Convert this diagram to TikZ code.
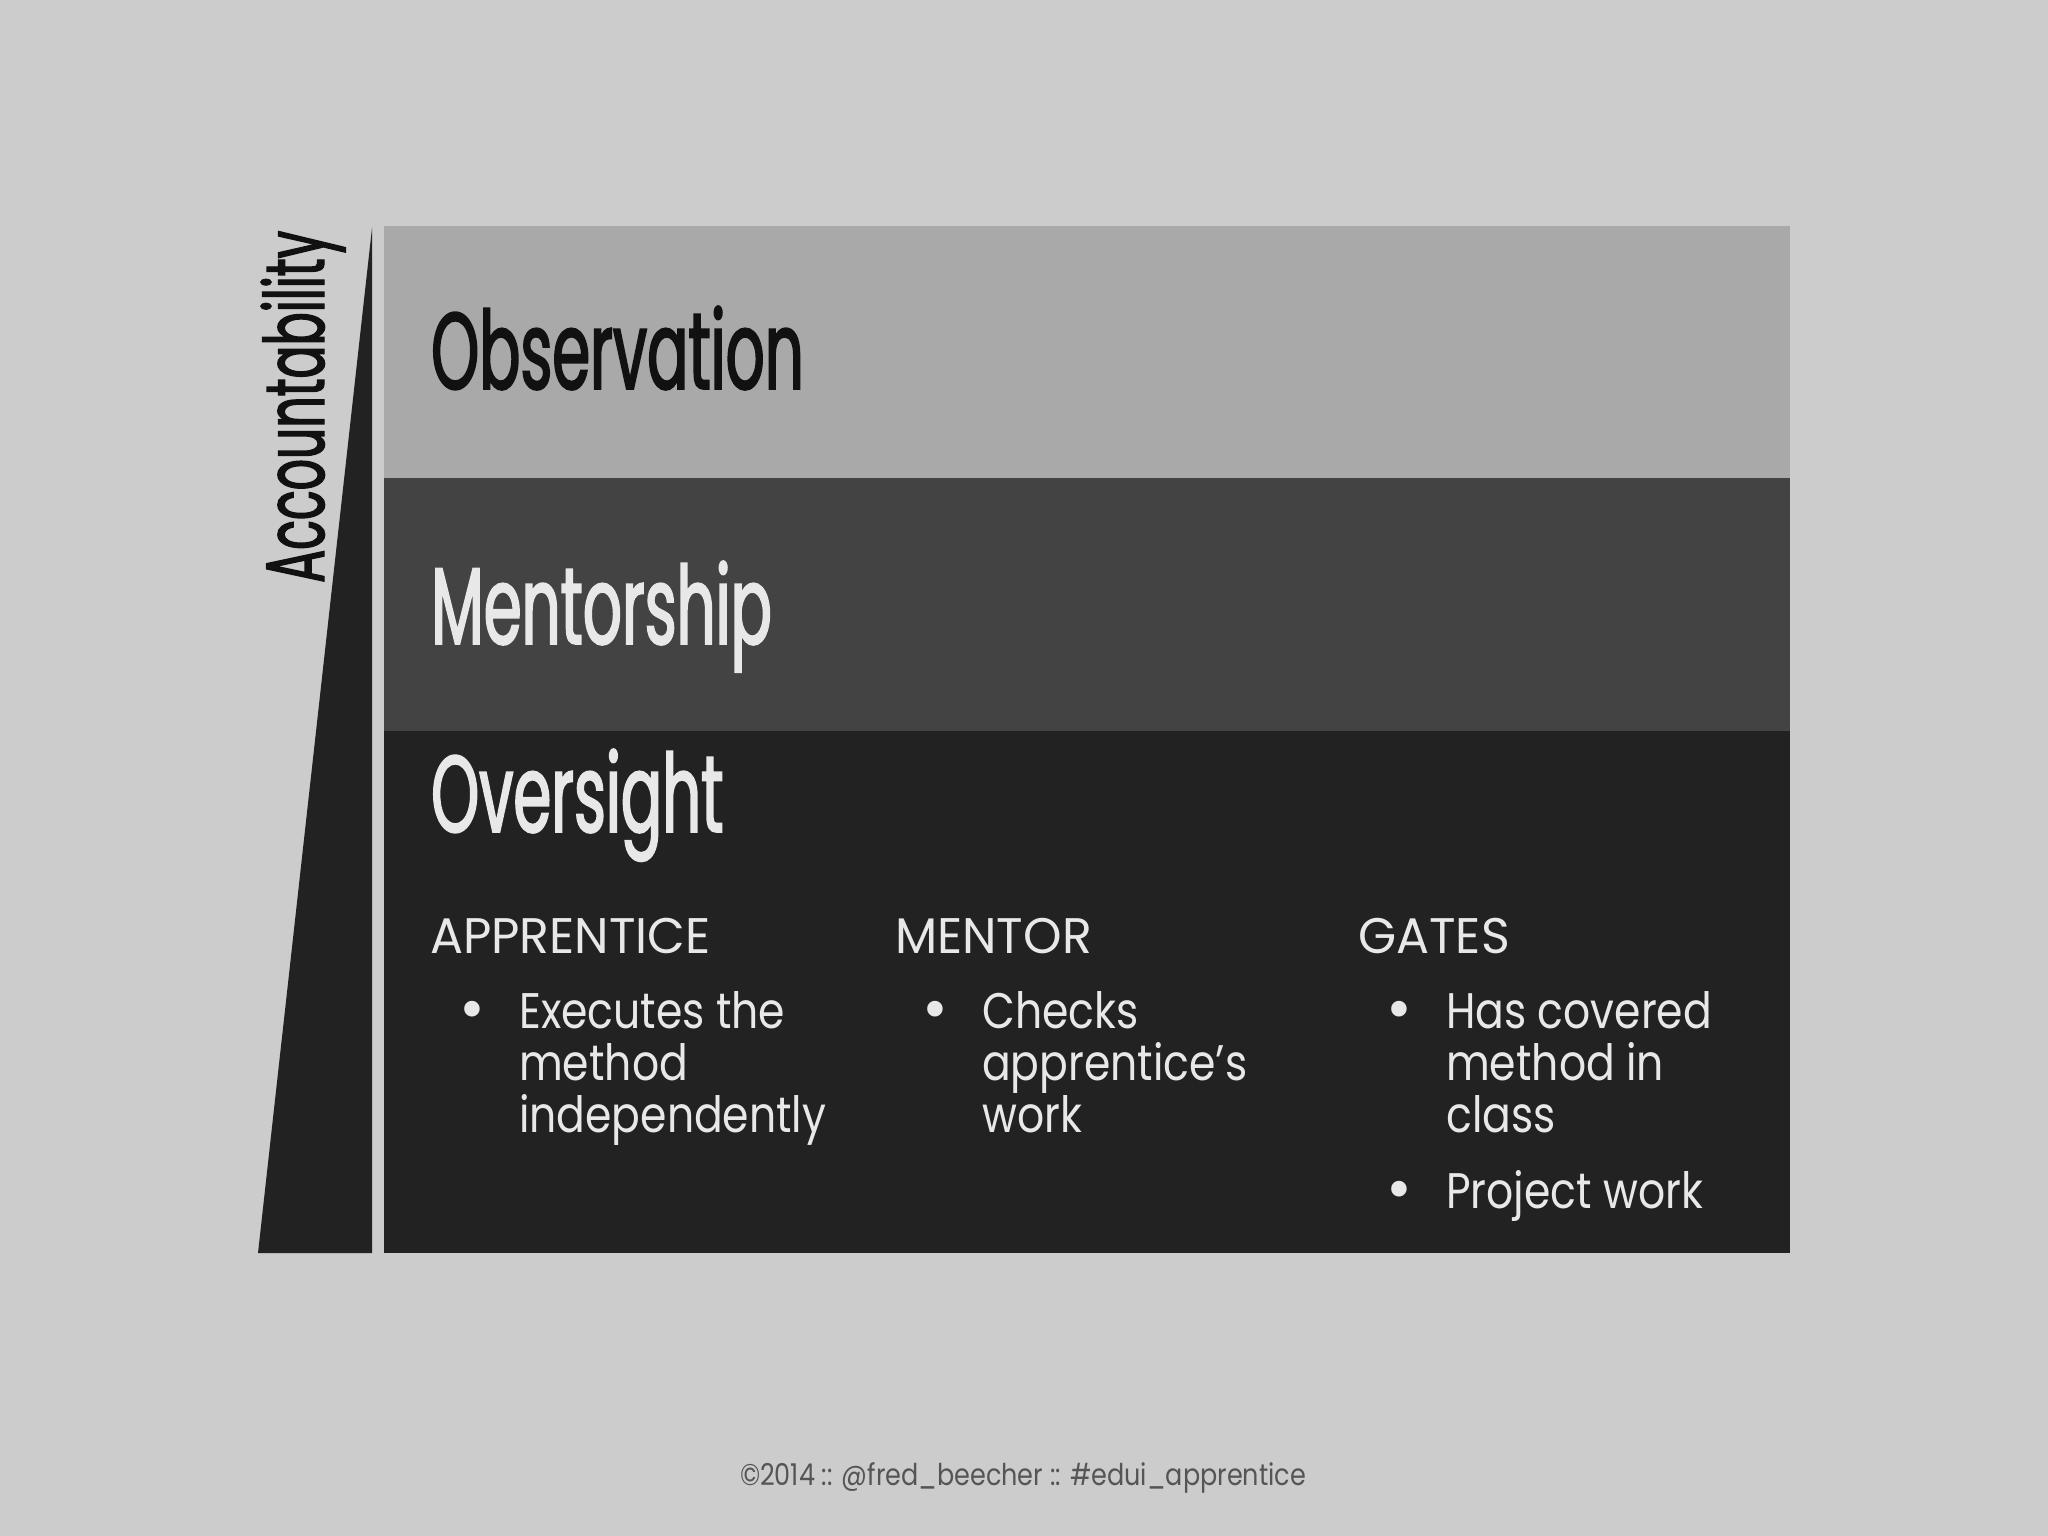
\documentclass[tikz,border=0pt]{standalone}
\usepackage{fontspec}
\setmainfont{Poppins}
\newfontfamily\condfont[FakeStretch=0.56,FakeBold=1.6]{Poppins}
\newfontfamily\acctfont[FakeStretch=0.59,FakeBold=1.6]{Poppins}
\newfontfamily\bodyfont[FakeStretch=0.85]{Poppins}
\newfontfamily\headfont[FakeStretch=0.98]{Poppins}
\definecolor{bgc}{HTML}{CCCCCC}
\definecolor{obsc}{HTML}{A9A9A9}
\definecolor{menc}{HTML}{434343}
\definecolor{ovrc}{HTML}{222222}
\definecolor{lighttext}{HTML}{E8E8E8}
\definecolor{darktext}{HTML}{111111}
\definecolor{footc}{HTML}{555555}
\tikzset{
  band/.style={rectangle, draw=none, inner sep=0pt, anchor=north west, minimum width=1406pt},
  title/.style={anchor=base west, inner sep=0pt, font=\condfont\fontsize{109}{109}\selectfont},
  head/.style={anchor=base west, inner sep=0pt, text=lighttext, font=\headfont\fontsize{50}{50}\selectfont},
  item/.style={anchor=base west, inner sep=0pt, text=lighttext, font=\bodyfont\fontsize{50}{50}\selectfont},
  bul/.style={anchor=base, inner sep=0pt, text=lighttext, font=\headfont\fontsize{64}{64}\selectfont},
}
\begin{document}
\begin{tikzpicture}[x=1pt,y=-1pt]
\fill[bgc] (0,0) rectangle (2048,1536);
\useasboundingbox (0,0) rectangle (2048,1536);
% accountability wedge
\fill[ovrc] (372,228) -- (372,1253) -- (258,1253) -- cycle;
\node[anchor=base west, inner sep=0pt, rotate=90, text=darktext, font=\acctfont\fontsize{83}{83}\selectfont] (acc) at (324,583) {Accountability};
% bands
\node[band, fill=obsc, minimum height=252pt] (obs) at (384,226) {};
\node[band, fill=menc, minimum height=253pt] (men) at (384,478) {};
\node[band, fill=ovrc, minimum height=522pt] (ovr) at (384,731) {};
% titles
\node[title, text=darktext] (tobs) at (431,389) {Observation};
\node[title, text=lighttext] (tmen) at (431,644) {Mentorship};
\node[title, text=lighttext] (tovr) at (431,832) {Oversight};
% columns
\node[head] (h1) at (430,953) {APPRENTICE};
\node[head] (h2) at (895,953) {MENTOR};
\node[head] (h3) at (1358,953) {GATES};
\node[bul] (b1) at (472,1030) {•};
\node[item] (a1) at (519,1028) {Executes the};
\node[item] (a2) at (519,1080) {method};
\node[item] (a3) at (519,1132) {independently};
\node[bul] (b2) at (935,1030) {•};
\node[item] (m1) at (982,1028) {Checks};
\node[item] (m2) at (982,1080) {apprentice’s};
\node[item] (m3) at (982,1132) {work};
\node[bul] (b3) at (1399,1030) {•};
\node[item] (g1) at (1446,1028) {Has covered};
\node[item] (g2) at (1446,1080) {method in};
\node[item] (g3) at (1446,1132) {class};
\node[bul] (b4) at (1399,1210) {•};
\node[item] (g4) at (1446,1208) {Project work};
% footer
\node[anchor=base, inner sep=0pt, text=footc, font=\bodyfont\fontsize{30}{30}\selectfont] (foot) at (1023,1485) {©2014 :: @fred\_beecher :: \#edui\_apprentice};
\end{tikzpicture}
\end{document}
